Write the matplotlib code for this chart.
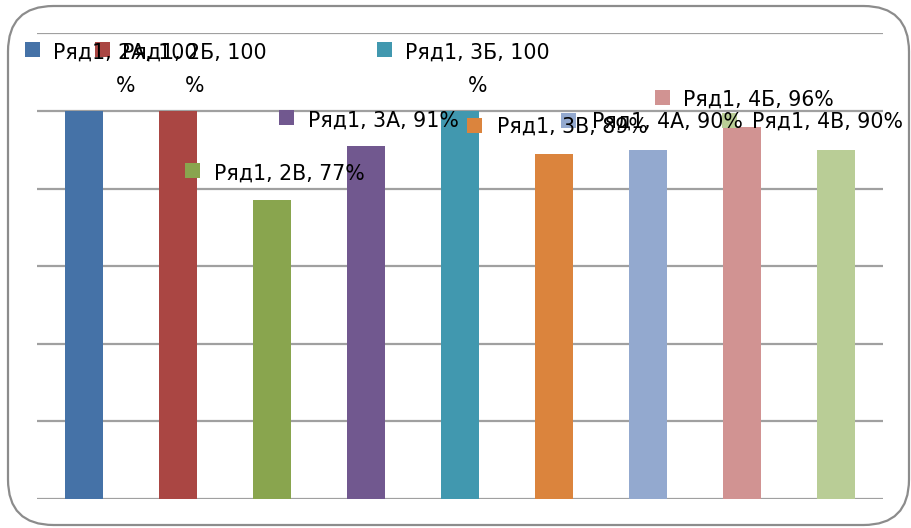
import matplotlib
matplotlib.use("Agg")
import matplotlib.pyplot as plt
from matplotlib.patches import Rectangle, FancyBboxPatch

# ---- data ----
categories = ["2А", "2Б", "2В", "3А", "3Б", "3В", "4А", "4Б", "4В"]
values = [100, 100, 77, 91, 100, 89, 90, 96, 90]
series_name = "Ряд1"
colors = ["#4572A7", "#AA4643", "#89A54E", "#71588F", "#4198AF",
          "#DB843D", "#93A9CF", "#D19392", "#B9CD96"]

# label layout (pixels): square left x, square top y, text left x, baseline y, wrapped?
label_sq_x = [25, 95, 185, 279, 377, 467, 561, 655, 722]
label_sq_y = [42, 42, 163, 110, 42, 118, 113, 90, 113]
label_tx_x = [53, 122, 214, 308, 405, 497, 592, 683, 752]
label_base_y = [59, 59, 180, 127, 59, 133, 128, 106, 128]
label_wrap = [True, True, False, False, True, False, False, False, False]

W, H = 912, 528
fig = plt.figure(figsize=(W / 100, H / 100), dpi=100)
fig.patch.set_facecolor("white")

def fx(x):
    return x / W

def fy(y):
    return 1 - y / H

# rounded border
border = FancyBboxPatch((fx(8), fy(525)), fx(901), 519 / H,
                        boxstyle="round,pad=0,rounding_size=0.05",
                        transform=fig.transFigure, fill=False,
                        edgecolor="#8c8c8c", linewidth=1.6,
                        mutation_aspect=W / H)
fig.patches.append(border)

ax = fig.add_axes([fx(37), fy(499), fx(883) - fx(37), (499 - 33.4) / H])
x = list(range(len(categories)))
ax.bar(x, values, width=0.40, color=colors, zorder=3)
ax.set_xlim(-0.5, len(categories) - 0.5)
ax.set_ylim(0, 120)
ax.set_yticks(range(0, 121, 20))
ax.yaxis.grid(True, color="#a0a0a0", linewidth=1.6, zorder=0)
ax.set_axisbelow(True)
for s in ax.spines.values():
    s.set_visible(False)
ax.tick_params(left=False, bottom=False, labelleft=False, labelbottom=False)
ax.patch.set_alpha(0)

fig.canvas.draw()
renderer = fig.canvas.get_renderer()
fs = 14.8
for i, (cat, v) in enumerate(zip(categories, values)):
    sq = Rectangle((fx(label_sq_x[i]), fy(label_sq_y[i] + 15)), 15 / W, 15 / H,
                   transform=fig.transFigure, facecolor=colors[i],
                   edgecolor="none", zorder=5)
    fig.patches.append(sq)
    if label_wrap[i]:
        t = fig.text(fx(label_tx_x[i]), fy(label_base_y[i]),
                     f"{series_name}, {cat}, {v}", fontsize=fs,
                     family="DejaVu Sans", va="baseline", ha="left", zorder=6)
        bb = t.get_window_extent(renderer=renderer)
        cx = (bb.x0 + bb.x1) / 2 / W
        fig.text(cx, fy(label_base_y[i] + 33), "%", fontsize=fs,
                 family="DejaVu Sans", va="baseline", ha="center", zorder=6)
    else:
        fig.text(fx(label_tx_x[i]), fy(label_base_y[i]),
                 f"{series_name}, {cat}, {v}%", fontsize=fs,
                 family="DejaVu Sans", va="baseline", ha="left", zorder=6)

fig.savefig("out.png", dpi=100)
